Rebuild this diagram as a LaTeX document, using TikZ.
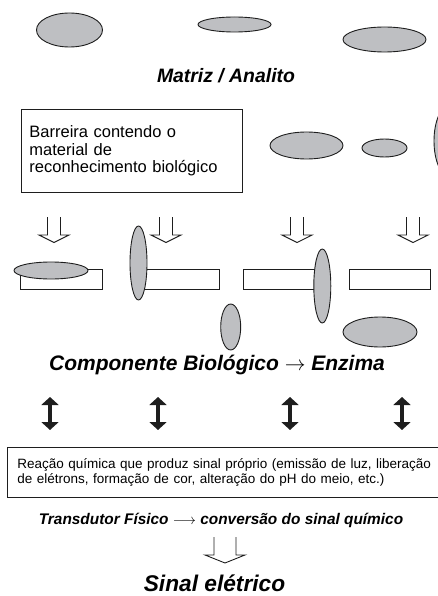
\documentclass[tikz,border=0pt]{standalone}
\usepackage{fontspec}
\setmainfont{Liberation Sans}
\usetikzlibrary{arrows.meta,shapes.geometric}
\definecolor{cellgray}{RGB}{190,191,194}
\definecolor{ink}{RGB}{30,30,30}
\newcommand\blockdown[5]{%
  \begin{scope}[shift={(#1)}]
    \draw[hollow] (-#2,0) -- (-#2,#4) -- (-#3,#4) -- (0,#5) -- (#3,#4) -- (#2,#4) -- (#2,0);
  \end{scope}}
\begin{document}
\begin{tikzpicture}[x=1pt,y=-1pt,
  cell/.style={ellipse, draw=ink, line width=0.9pt, fill=cellgray, inner sep=0pt},
  bar/.style={draw=ink, line width=0.9pt, fill=white, inner sep=0pt, anchor=north west, minimum height=20pt},
  hollow/.style={draw=ink, line width=0.9pt, fill=white, line join=miter},
  title/.style={font=\fontsize{19.4}{22}\selectfont\bfseries\itshape, anchor=base},
  dbl/.style={line width=4.5pt, draw=ink, {Triangle[width=17pt,length=8pt]}-{Triangle[width=17pt,length=8pt]}}
]
\path[use as bounding box] (0,0) rectangle (438,596);
\clip (0,0) rectangle (438,596);

% analyte ellipses
\node[cell, minimum width=66pt, minimum height=34pt] (e1) at (69.5,30) {};
\node[cell, minimum width=73pt, minimum height=15pt] (e2) at (234.5,24.5) {};
\node[cell, minimum width=83pt, minimum height=25pt] (e3) at (384.5,39.5) {};

\node[title] (matriz) at (226,83) {Matriz / Analito};

% barrier box
\node[draw=ink, line width=0.9pt, anchor=north west, minimum width=221pt, minimum height=83pt,
      text width=205pt, inner xsep=8pt, align=left,
      font=\fontsize{16.5}{17.5}\selectfont] (barreira) at (21,109)
      {Barreira contendo o\\material de\\reconhecimento biológico};

\node[cell, minimum width=73pt, minimum height=27pt] (e4) at (306.5,145.5) {};
\node[cell, minimum width=45pt, minimum height=18pt] (e5) at (384.5,148) {};
\node[cell, minimum width=30pt, minimum height=70pt] (e6) at (449,141) {};

% hollow down arrows
\coordinate (a1) at (54,217);
\coordinate (a2) at (166,217);
\coordinate (a3) at (297,217);
\coordinate (a4) at (413,217);
\foreach \a in {a1,a2,a3,a4}{\blockdown{\a}{6.5}{15}{18}{25.5}}

% bars
\node[bar, minimum width=82pt] (b1) at (20,269) {};
\node[bar, minimum width=79pt] (b2) at (140,269) {};
\node[bar, minimum width=76pt] (b3) at (243,269) {};
\node[bar, minimum width=81pt] (b4) at (349,269) {};

% biological component ellipses
\node[cell, minimum width=74pt, minimum height=17pt] (e7) at (51,270.5) {};
\node[cell, minimum width=17pt, minimum height=74pt] (e8) at (138.5,263) {};
\node[cell, minimum width=20pt, minimum height=46pt] (e9) at (230.7,327) {};
\node[cell, minimum width=17pt, minimum height=74pt] (e10) at (322.3,286) {};
\node[cell, minimum width=74pt, minimum height=30pt] (e11) at (380,332) {};

\node[title, font=\fontsize{21}{24}\selectfont\bfseries\itshape] (comp) at (217,370) {Componente Biológico $\rightarrow$ Enzima};

% double arrows
\foreach \i/\x in {1/50,2/158,3/290,4/402}{
  \coordinate (d\i t) at (\x,397);
  \coordinate (d\i b) at (\x,430);
  \draw[dbl] (d\i t) -- (d\i b);
}

% reaction box
\node[draw=ink, line width=0.9pt, anchor=north west, minimum width=433pt, minimum height=50pt,
      text width=425pt, inner xsep=10pt, align=left,
      font=\fontsize{13.5}{15.5}\selectfont] (reacao) at (7,447)
      {Reação química que produz sinal próprio (emissão de luz, liberação\\de elétrons, formação de cor, alteração do pH do meio, etc.)};

\node[font=\fontsize{15.4}{18}\selectfont\bfseries\itshape, anchor=base] (trans) at (221,524)
      {Transdutor Físico $\longrightarrow$ conversão do sinal químico};

\coordinate (a5) at (225,537);
\blockdown{a5}{11}{20}{18}{26}

\node[font=\fontsize{22.7}{26}\selectfont\bfseries\itshape, anchor=base] (sinal) at (214.5,591) {Sinal elétrico};
\end{tikzpicture}
\end{document}
